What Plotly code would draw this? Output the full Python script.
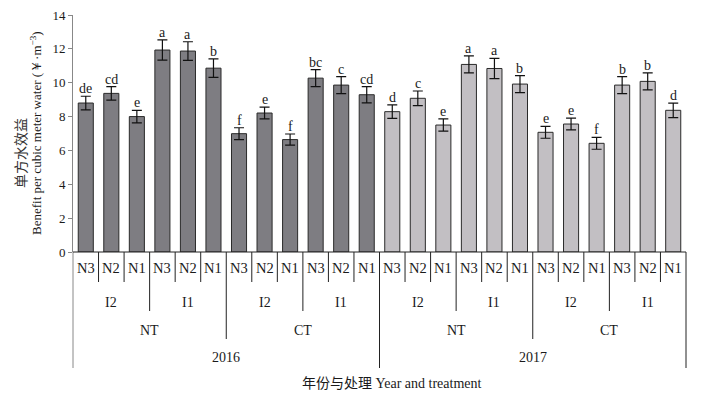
import plotly.graph_objects as go

# ---- data ----
years = ["2016", "2017"]
tillage = ["NT", "CT"]
irrigation = ["I2", "I1"]
nitrogen = ["N3", "N2", "N1"]

values_2016 = [8.8, 9.37, 8.0, 11.93, 11.87, 10.86, 6.99, 8.21, 6.64, 10.27, 9.86, 9.29]
errors_2016 = [0.4, 0.4, 0.37, 0.6, 0.55, 0.55, 0.35, 0.35, 0.33, 0.5, 0.5, 0.48]
letters_2016 = ["de", "cd", "e", "a", "a", "b", "f", "e", "f", "bc", "c", "cd"]

values_2017 = [8.29, 9.08, 7.5, 11.08, 10.84, 9.92, 7.07, 7.56, 6.42, 9.86, 10.08, 8.37]
errors_2017 = [0.4, 0.43, 0.36, 0.5, 0.6, 0.5, 0.35, 0.35, 0.35, 0.5, 0.5, 0.43]
letters_2017 = ["d", "c", "e", "a", "a", "b", "e", "e", "f", "b", "b", "d"]

y_ticks = [0, 2, 4, 6, 8, 10, 12, 14]

# ---- layout constants (page pixels; page body has an 8px margin) ----
OFF = 8
W, H = 709 - OFF, 398 - OFF
PLOT_L, PLOT_R, PLOT_T, PLOT_B = 73, 686, 15, 252   # target page pixels
ML = PLOT_L - OFF
MT = PLOT_T - OFF
MR = W - (PLOT_R - OFF)
MB = H - (PLOT_B - OFF)
PH = PLOT_B - PLOT_T
PW = PLOT_R - PLOT_L

FONT = "Liberation Serif, Times New Roman, serif"
DARK = "#7e7d82"
LIGHT = "#c2bfc3"
EDGE = "#2a2a2a"
TXT = "#1a1a1a"

n_per_year = len(values_2016)
N = n_per_year * 2


def py2paper(py):
    return (PLOT_B - py) / PH


def px2paper(px):
    return (px - PLOT_L) / PW


def idx2paper(x):
    return (x + 0.5) / N


fig = go.Figure()
for yi, (vals, errs, col) in enumerate([(values_2016, errors_2016, DARK), (values_2017, errors_2017, LIGHT)]):
    xs = [yi * n_per_year + i for i in range(n_per_year)]
    fig.add_trace(go.Bar(
        x=xs, y=vals, width=0.59,
        marker=dict(color=col, line=dict(color=EDGE, width=1)),
        error_y=dict(type="data", array=errs, visible=True, color="#111111", thickness=1.2, width=5),
        showlegend=False, name=years[yi], hoverinfo="skip",
    ))

annotations = []
shapes = []

# significance letters
all_vals = values_2016 + values_2017
all_errs = errors_2016 + errors_2017
all_letters = letters_2016 + letters_2017
for i, (v, e, L) in enumerate(zip(all_vals, all_errs, all_letters)):
    annotations.append(dict(x=i, y=v + e, xref="x", yref="y", text=L, showarrow=False,
                            xanchor="center", yanchor="bottom", yshift=-2,
                            font=dict(family=FONT, size=14, color=TXT)))

# hierarchical x labels
row_y = {"N": 268, "I": 302, "T": 330, "Y": 358}
sep_bottom = {"N": 282, "I": 311, "T": 339, "Y": 368}

for i in range(N):
    annotations.append(dict(x=i, y=py2paper(row_y["N"]), xref="x", yref="paper", text=nitrogen[i % 3],
                            showarrow=False, xanchor="center", yanchor="middle",
                            font=dict(family=FONT, size=14.5, color=TXT)))
for j in range(N // 3):
    annotations.append(dict(x=j * 3 + 1, y=py2paper(row_y["I"]), xref="x", yref="paper",
                            text=irrigation[j % 2], showarrow=False, xanchor="center", yanchor="middle",
                            font=dict(family=FONT, size=14, color=TXT)))
for j in range(N // 6):
    annotations.append(dict(x=j * 6 + 2.5, y=py2paper(row_y["T"]), xref="x", yref="paper",
                            text=tillage[j % 2], showarrow=False, xanchor="center", yanchor="middle",
                            font=dict(family=FONT, size=14, color=TXT)))
for j in range(2):
    annotations.append(dict(x=j * 12 + 5.5, y=py2paper(row_y["Y"]), xref="x", yref="paper",
                            text=years[j], showarrow=False, xanchor="center", yanchor="middle",
                            font=dict(family=FONT, size=14, color=TXT)))

# separators
for k in range(N + 1):
    if k % 12 == 0:
        level = "Y"
    elif k % 6 == 0:
        level = "T"
    elif k % 3 == 0:
        level = "I"
    else:
        level = "N"
    xp = idx2paper(k - 0.5)
    color = "#888888" if k == 0 else "#222222"
    shapes.append(dict(type="line", xref="paper", yref="paper", x0=xp, x1=xp,
                       y0=0, y1=py2paper(sep_bottom[level]), line=dict(color=color, width=1)))

# x axis line
shapes.append(dict(type="line", xref="paper", yref="paper", x0=0, x1=1, y0=0, y1=0,
                   line=dict(color="#222222", width=1)))

# axis titles
annotations.append(dict(x=px2paper(391), y=py2paper(384), xref="paper", yref="paper",
                        text="年份与处理 Year and treatment", showarrow=False,
                        xanchor="center", yanchor="middle",
                        font=dict(family="Liberation Serif, Noto Sans CJK SC, serif", size=14, color=TXT)))
annotations.append(dict(x=px2paper(20), y=py2paper(153), xref="paper", yref="paper",
                        text="单方水效益", showarrow=False, textangle=-90,
                        xanchor="center", yanchor="middle",
                        font=dict(family="Noto Sans CJK SC, serif", size=14, color="#333")))
annotations.append(dict(x=px2paper(36), y=py2paper(133), xref="paper", yref="paper",
                        text="Benefit per cubic meter water (￥·m<sup>−3</sup>)", showarrow=False, textangle=-90,
                        xanchor="center", yanchor="middle",
                        font=dict(family=FONT, size=13, color=TXT)))

fig.update_layout(
    width=W, height=H,
    margin=dict(l=ML, r=MR, t=MT, b=MB, autoexpand=False),
    paper_bgcolor="white", plot_bgcolor="white",
    annotations=annotations, shapes=shapes,
    xaxis=dict(range=[-0.5, N - 0.5], showticklabels=False, showgrid=False, zeroline=False,
               showline=False, ticks="", automargin=False),
    yaxis=dict(range=[0, 14], tickvals=y_ticks, ticks="outside", ticklen=4, tickcolor="#888",
               showline=True, linecolor="#888", linewidth=1, showgrid=False, zeroline=False,
               automargin=False, ticklabeloverflow="allow",
               tickfont=dict(family=FONT, size=13, color=TXT)),
)

fig.write_html("out.html")
